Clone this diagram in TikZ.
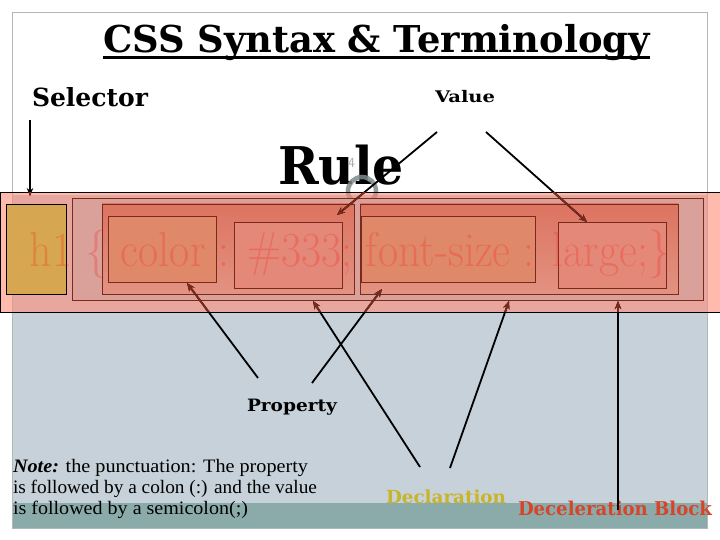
\documentclass[tikz,border=0pt]{standalone}
\usepackage{fontspec}
\newfontfamily\dejavu{DejaVu Serif}
\newfontfamily\notefont{Liberation Serif}
\usetikzlibrary{arrows.meta,calc}
\definecolor{bluegray}{HTML}{C6D1D9}
\definecolor{tealband}{HTML}{8BABAB}
\definecolor{framegray}{HTML}{B0B8B8}
\definecolor{bandcol}{HTML}{FF8C78}
\definecolor{selcol}{HTML}{D6A650}
\definecolor{blkcol}{HTML}{DAA19A}
\definecolor{dectop}{HTML}{DC7460}
\definecolor{decbot}{HTML}{E39282}
\definecolor{propcol}{HTML}{E0886A}
\definecolor{valcol}{HTML}{E4897A}
\definecolor{boxline}{HTML}{7A2A1A}
\definecolor{codecol}{HTML}{F82010}
\definecolor{declcol}{HTML}{C8B428}
\definecolor{blockcol}{HTML}{D6452A}
\definecolor{ringgray}{HTML}{7F8A8A}
\newcommand\fitw[2]{\resizebox{#1}{\height}{#2}}
\begin{document}
\begin{tikzpicture}[x=1pt,y=-1pt,
  lbl/.style={inner sep=0pt, outer sep=0pt, anchor=base west},
  rbox/.style={draw=boxline, line width=0.8pt, inner sep=0pt, outer sep=0pt, anchor=north west},
  conn/.style={draw=black, line width=1.8pt, -{Stealth[length=8pt,width=6.5pt]}}]
\useasboundingbox (0,0) rectangle (720,540);
% background
\fill[white] (0,0) rectangle (720,540);
\fill[bluegray] (12,195) rectangle (707,503);
\fill[tealband] (12,503) rectangle (707,528);
\draw[framegray, line width=0.8pt] (12,12) rectangle (707,528);
% title
\node[lbl] (title) at (103,53) {\fitw{547pt}{\dejavu\fontsize{37}{40}\selectfont\bfseries CSS Syntax \& Terminology}};
\draw[line width=2.5pt] ($(title.base west)+(0,4.5)$) -- ($(title.base east)+(0,4.5)$);
% labels
\node[lbl] (selector) at (32,107) {\fitw{116pt}{\dejavu\fontsize{25}{28}\selectfont\bfseries Selector}};
\node[lbl] (value) at (435,103) {\fitw{60pt}{\dejavu\fontsize{16}{18}\selectfont\bfseries Value}};
\node[lbl] (rule) at (278,185) {\fitw{126pt}{\dejavu\fontsize{52}{56}\selectfont\bfseries Rule}};
\node[lbl, text=ringgray!70] (pagenum) at (348,168) {\fontsize{14}{16}\selectfont\sffamily 4};
\draw[ringgray, line width=4.5pt, opacity=0.85] (362,191) circle[radius=14];
% band
\path[fill=bandcol, fill opacity=0.6, draw=black, line width=0.8pt] (0.5,192) rectangle (740,312);
% boxes
\node[rbox, draw=black, fill=selcol, minimum width=60pt, minimum height=90pt] (selbox) at (6.5,204) {};
\node[rbox, fill=blkcol, minimum width=631pt, minimum height=102pt] (block) at (72,198) {};
\node[rbox, top color=dectop, bottom color=decbot, minimum width=252pt, minimum height=90pt] (dec1) at (102,204) {};
\node[rbox, top color=dectop, bottom color=decbot, minimum width=318pt, minimum height=90pt] (dec2) at (360,204) {};
\node[rbox, fill=propcol, minimum width=108pt, minimum height=66pt] (prop1) at (108,216) {};
\node[rbox, fill=valcol, minimum width=108pt, minimum height=66pt] (val1) at (234,222) {};
\node[rbox, fill=propcol, minimum width=174pt, minimum height=66pt] (prop2) at (361,216) {};
\node[rbox, fill=valcol, minimum width=108pt, minimum height=66pt] (val2) at (558,222) {};
% code text
\node[lbl, text=codecol, text opacity=0.26] (code) at (30,266) {\fitw{640pt}{\fontsize{49}{52}\selectfont h1 \{ color : \#333; font-size : large;\}}};
% lower labels
\node[lbl] (property) at (247,411) {\fitw{90pt}{\dejavu\fontsize{17}{20}\selectfont\bfseries Property}};
\node[lbl] (note1) at (13,472) {\fitw{295pt}{\notefont\fontsize{19}{22}\selectfont\textbf{\textit{Note:}} the punctuation: The property}};
\node[lbl] (note2) at (13,493) {\fitw{304pt}{\notefont\fontsize{19}{22}\selectfont is followed by a colon (:) and the value}};
\node[lbl] (note3) at (13,514) {\fitw{235pt}{\notefont\fontsize{19}{22}\selectfont is followed by a semicolon(;)}};
\node[lbl, text=declcol] (decl) at (386,503) {\fitw{120pt}{\dejavu\fontsize{18}{20}\selectfont\bfseries Declaration}};
\node[lbl, text=blockcol] (declblock) at (518,515) {\fitw{194pt}{\dejavu\fontsize{19}{22}\selectfont\bfseries Deceleration Block}};
% connector end points
\coordinate (sSel) at (30,120);   \coordinate (tSel) at (30,196);
\coordinate (sVal1) at (437,132); \coordinate (tVal1) at (337,215);
\coordinate (sVal2) at (486,132); \coordinate (tVal2) at (587,222);
\coordinate (sProp1) at (258,378); \coordinate (tProp1) at (187,283);
\coordinate (sProp2) at (312,383); \coordinate (tProp2) at (382,289);
\coordinate (sDec1) at (420,467); \coordinate (tDec1) at (313,301);
\coordinate (sDec2) at (450,468); \coordinate (tDec2) at (509,301);
\coordinate (sBlk) at (618,510); \coordinate (tBlk) at (618,301);
\newcommand\allconns{%
  \draw[conn] (sSel) -- (tSel);
  \draw[conn] (sVal1) -- (tVal1);
  \draw[conn] (sVal2) -- (tVal2);
  \draw[conn] (sProp1) -- (tProp1);
  \draw[conn] (sProp2) -- (tProp2);
  \draw[conn] (sDec1) -- (tDec1);
  \draw[conn] (sDec2) -- (tDec2);
  \draw[conn] (sBlk) -- (tBlk);}
\allconns
\begin{scope}
  \clip (0,192.5) rectangle (720,311.5);
  \tikzset{conn/.append style={draw=boxline}}
  \allconns
\end{scope}
\end{tikzpicture}
\end{document}
